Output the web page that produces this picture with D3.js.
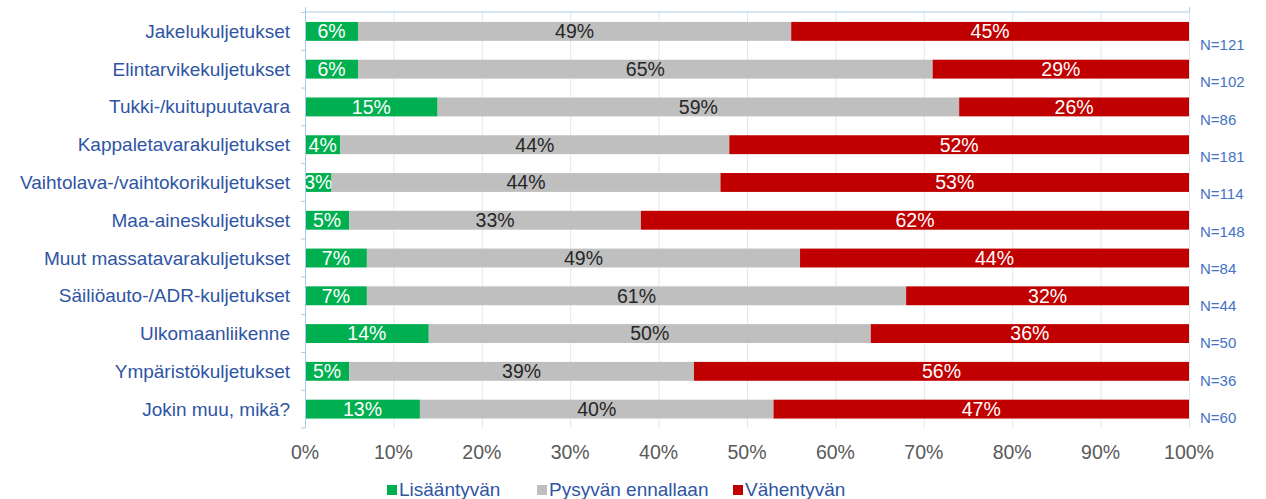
<!DOCTYPE html>
<html><head><meta charset="utf-8">
<script src="https://cdn.jsdelivr.net/npm/d3@7"></script>
<style>body{margin:0;background:#fff;}svg{display:block;font-family:"Liberation Sans",Arial,sans-serif;}</style>
</head><body>
<svg id="c" width="1266" height="499"></svg>
<script>
const categories = ["Jakelukuljetukset","Elintarvikekuljetukset","Tukki-/kuitupuutavara","Kappaletavarakuljetukset","Vaihtolava-/vaihtokorikuljetukset","Maa-aineskuljetukset","Muut massatavarakuljetukset","Säiliöauto-/ADR-kuljetukset","Ulkomaanliikenne","Ympäristökuljetukset","Jokin muu, mikä?"];
const lisaantyvan = [6,6,15,4,3,5,7,7,14,5,13];
const pysyvan = [49,65,59,44,44,33,49,61,50,39,40];
const vahentyvan = [45,29,26,52,53,62,44,32,36,56,47];
const nLabels = ["N=121","N=102","N=86","N=181","N=114","N=148","N=84","N=44","N=50","N=36","N=60"];
const seriesNames = ["Lisääntyvän","Pysyvän ennallaan","Vähentyvän"];
const tickValues = [0,10,20,30,40,50,60,70,80,90,100];

const colors = ["#00b050","#bfbfbf","#c00000"];
const textColors = ["#ffffff","#262626","#ffffff"];
const svg = d3.select("#c");
const x = d3.scaleLinear().domain([0,100]).range([305,1189]);
const y = d3.scaleBand().domain(categories).range([12.5,428]).paddingInner(0.5).paddingOuter(0.25);
const yN = d3.scalePoint().domain(categories).range([45,418]);

// gridlines
svg.append("g").selectAll("line").data(tickValues.slice(1)).join("line")
  .attr("x1",d=>x(d)+0.5).attr("x2",d=>x(d)+0.5).attr("y1",11).attr("y2",428)
  .attr("stroke","#dfe8f2").attr("stroke-width",1);

// stacked data
const stackData = categories.map((c,i)=>({cat:c, s0:lisaantyvan[i], s1:pysyvan[i], s2:vahentyvan[i]}));
const stack = d3.stack().keys(["s0","s1","s2"])(stackData);

stack.forEach((layer,k)=>{
  const g = svg.append("g");
  g.selectAll("rect").data(layer).join("rect")
    .attr("x",d=>x(d[0])).attr("width",d=>x(d[1])-x(d[0]))
    .attr("y",d=>y(d.data.cat)).attr("height",y.bandwidth())
    .attr("fill",colors[k]);
  g.selectAll("text").data(layer).join("text")
    .attr("x",d=>(x(d[0])+x(d[1]))/2)
    .attr("y",d=>y(d.data.cat)+y.bandwidth()/2+6.8)
    .attr("text-anchor","middle").attr("font-size",19.5)
    .attr("fill",textColors[k])
    .text(d=>(d[1]-d[0])+"%");
});

// top axis line
const topAxis = svg.append("g").attr("transform","translate(0,11.5)")
  .call(d3.axisTop(x).tickValues([0,100]).tickSize(4).tickFormat(""));
topAxis.selectAll("path,line").attr("stroke","#a9cbe9");

// y axis line with band boundary ticks
const yAx = svg.append("g");
yAx.append("line").attr("x1",305.5).attr("x2",305.5).attr("y1",11).attr("y2",428).attr("stroke","#a9cbe9");
const bounds = categories.map(c=>y(c)-y.step()*y.paddingInner()/2).concat([y(categories[categories.length-1])+y.bandwidth()+y.step()*y.paddingInner()/2]);
yAx.selectAll("line.t").data(bounds).join("line").attr("class","t")
  .attr("x1",301).attr("x2",305.5).attr("y1",d=>d).attr("y2",d=>d).attr("stroke","#a9cbe9");

// category labels
svg.append("g").selectAll("text").data(categories).join("text")
  .attr("x",290).attr("y",d=>y(d)+y.bandwidth()/2+6.5)
  .attr("text-anchor","end").attr("font-size",19).attr("fill","#2f55a4")
  .text(d=>d);

// N labels
svg.append("g").selectAll("text").data(categories).join("text")
  .attr("x",1200).attr("y",d=>yN(d)+5)
  .attr("font-size",15).attr("fill","#4472c4")
  .text((d,i)=>nLabels[i]);

// x tick labels
svg.append("g").selectAll("text").data(tickValues).join("text")
  .attr("x",d=>x(d)).attr("y",459)
  .attr("text-anchor","middle").attr("font-size",19.5).attr("fill","#595959")
  .text(d=>d+"%");

// legend
const legX = [387,537,733];
const leg = svg.append("g").selectAll("g").data(seriesNames).join("g")
  .attr("transform",(d,i)=>`translate(${legX[i]},485)`);
leg.append("rect").attr("width",10).attr("height",10).attr("fill",(d,i)=>colors[i]);
leg.append("text").attr("x",12).attr("y",11).attr("font-size",19).attr("fill","#2f55a4").text(d=>d);
</script>
</body></html>
